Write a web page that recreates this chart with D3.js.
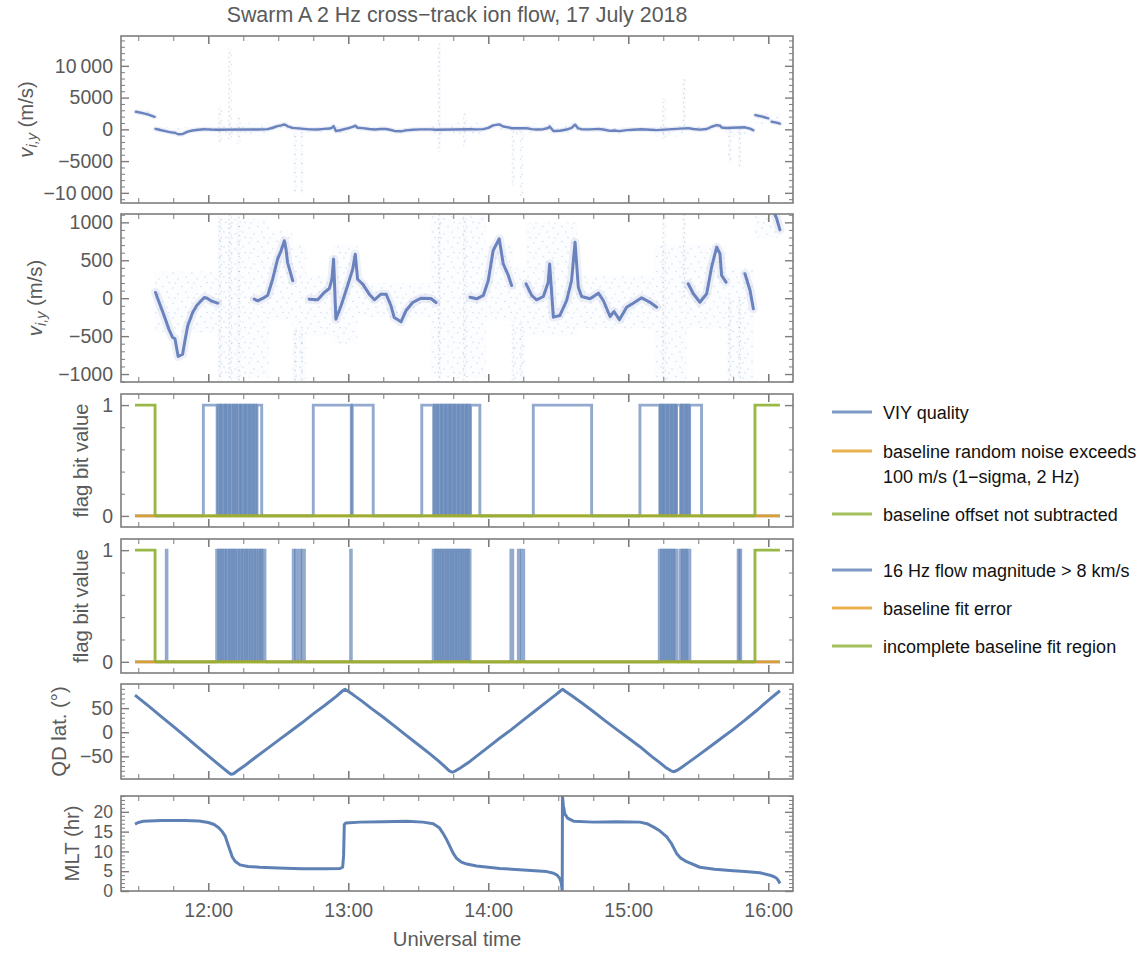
<!DOCTYPE html>
<html>
<head>
<meta charset="utf-8">
<script src="https://cdn.jsdelivr.net/npm/d3@7"></script>
<style>
  html, body { margin: 0; padding: 0; background: #fff; }
  svg { display: block; font-family: "Liberation Sans", Arial, Helvetica, sans-serif; }
</style>
</head>
<body>
<svg id="chart" width="1143" height="954"></svg>
<script>
// ---------------------------------------------------------------
// Data (time in minutes after 00:00 UT, 17 July 2018)
// ---------------------------------------------------------------

// Cross-track ion drift, baseline-corrected stretch (m/s); null = scattered, no clear trace
const viyTime = [697.4, 699, 701.1, 703, 704.7, 705.7, 707.1, 709.0, 710, 711.2, 713.3, 715, 716.9, 718.3, 719.5, 721.2, 724.0,
  null,
  739.7, 741.2, 743.5, 745.5, 747.6, 749.7, 751.2, 752.6, 753.3, 754.0, 756.2,
  null,
  763.3, 766.9, 769.7, 771.9, 773.0, 773.7, 774.7, 776.9, 779.7, 781.9, 783.0, 784.0, 786.2, 789.0, 791.2, 794.0, 796.2,
  798.3, 799.7, 802.6, 804.7, 807.6, 811.2, 815.4, 817.6,
  null,
  832.2, 835.0, 837.9, 840.0, 842.1, 844.7, 846.4, 848.6, 850.0,
  null,
  856.2, 858.6, 860.7, 863.6, 865.7, 866.3, 867.9, 870.7, 873.6, 875.7, 877.2, 878.6, 880.0, 883.6, 887.2, 889.3,
  892.2, 893.9, 896.2, 899.3, 902.1, 905.7, 909.3, 912.2,
  null,
  925.7, 927.9, 930.7, 933.6, 935.7, 937.9, 939.3, 940.0, 941.9,
  null,
  950.0, 952.2, 953.6];
const viy = [75, -60, -232, -400, -518, -532, -769, -738, -560, -364, -189, -100, -35, 9, 0, -35, -66,
  null,
  -13, -35, 0, 40, 250, 515, 625, 757, 650, 470, 230,
  null,
  -13, -21, 75, 128, 250, 515, -277, -100, 163, 383, 580, 250, 185, 53, -21, 53, 53,
  -100, -255, -312, -166, -57, 0, -4, -57,
  null,
  13, -8, 36, 233, 629, 783, 454, 300, 167,
  null,
  190, 36, -21, 22, 211, 450, -250, -228, -30, 233, 739, 145, 22, -8, 66, -30,
  -241, -175, -285, -119, -66, 5, -53, -119,
  null,
  190, 58, -53, 58, 409, 673, 586, 300, 211,
  null,
  322, 102, -140];

// Stretches where the baseline offset was not subtracted (m/s)
const rawTime = [689.0, 691.5, 694.0, 697.0, null, 954.5, 957.0, 960.0, null, 961.5, 963.5, 965.0];
const rawViy  = [2770, 2600, 2350, 1980, null, 2250, 2050, 1730, null, 1200, 1060, 900];

// Scatter of individual 2 Hz samples: broad clouds
const cloudStart = [689, 697, 724, 746, 756, 762, 773, 784, 815, 839, 851, 856, 878, 911, 925, 942, 954];
const cloudEnd   = [697, 724, 746, 756, 762, 773, 784, 815, 839, 851, 856, 878, 911, 925, 942, 954, 965];
const cloudLow   = [2300, -450, -1050, -300, -1100, -500, -600, -250, -1050, -300, -1100, -500, -400, -1100, -400, -1100, 800];
const cloudHigh  = [3100, 350, 1050, 900, 700, 300, 700, 200, 1100, 700, 400, 1000, 300, 700, 700, 400, 2500];

// Scatter of individual 2 Hz samples: narrow streaks
const streakStart = [724.3, 728.6, 732.2, 756.4, 759.3, 818.3, 829.2, 850.0, 853.7, 914.6, 923.2, 942.8, 947.1];
const streakEnd   = [725.8, 730.2, 733.8, 757.8, 760.6, 819.8, 830.6, 851.3, 854.8, 916.2, 924.8, 944.3, 948.3];
const streakLow   = [-2000, -1700, -2300, -10000, -10300, -3500, -2700, -8900, -10600, -1500, 0, -5300, -5800];
const streakHigh  = [3600, 12700, 1900, -400, -400, 13500, 2500, -300, -300, 4900, 8000, 0, 0];

// Flag bits: intervals [start, end] during which a bit is set
const flagFirst = 688.6, flagLast = 965.0;
const viyQualityOn = [
  [717.9, 723.8], [724.2, 724.9], [725.2, 725.6], [726.0, 726.9], [727.1, 727.5], [727.9, 728.6], [728.9, 729.3],
  [729.8, 730.5], [730.8, 731.4], [731.7, 732.2], [732.6, 733.4], [733.7, 734.1], [734.5, 735.3], [735.6, 736.0],
  [736.4, 737.1], [737.4, 737.9], [738.3, 738.8], [739.2, 739.6], [740.0, 740.5], [740.9, 742.9],
  [765.0, 781.3], [781.7, 790.7],
  [811.5, 816.6], [816.9, 817.5], [817.9, 818.3], [818.7, 819.5], [819.8, 820.2], [820.6, 821.3], [821.6, 822.0],
  [822.4, 823.1], [823.4, 823.8], [824.2, 824.9], [825.2, 825.6], [826.0, 826.7], [827.0, 827.4], [827.8, 828.5],
  [828.8, 829.2], [829.6, 830.3], [830.6, 831.0], [831.4, 832.0], [832.4, 836.4],
  [859.3, 884.3],
  [905.0, 913.5], [913.8, 914.4], [914.7, 915.1], [915.5, 916.2], [916.5, 916.9], [917.3, 918.0], [918.3, 918.7],
  [919.1, 919.7], [920.0, 920.4], [920.7, 922.4], [922.8, 923.2], [923.6, 924.3], [924.6, 925.0], [925.4, 926.0],
  [926.3, 931.4]
];
const noiseExceedsOn = [];
const offsetNotSubtractedOn = [[688.6, 697.2], [954.3, 965.0]];

const flowAbove8On = [
  [702.0, 702.3],
  [723.6, 724.3], [724.5, 725.4], [725.6, 726.4], [726.7, 727.6], [727.8, 728.9], [729.1, 729.9], [730.2, 731.0],
  [731.2, 731.9], [732.3, 733.2], [733.4, 734.3], [734.6, 735.4], [735.7, 736.5], [736.7, 737.6], [737.9, 738.8],
  [739.0, 739.9], [740.2, 740.9], [741.3, 742.0], [742.3, 743.0], [743.3, 744.3],
  [756.4, 756.8], [757.4, 757.9], [759.0, 759.6], [760.3, 761.2],
  [781.0, 781.3],
  [816.4, 817.2], [817.4, 818.3], [818.5, 819.4], [819.6, 820.4], [820.7, 821.6], [821.8, 822.7], [822.9, 823.8],
  [824.0, 824.9], [825.1, 826.0], [826.2, 827.1], [827.3, 828.2], [828.4, 829.3], [829.5, 830.4], [830.6, 831.4],
  [831.6, 832.2],
  [849.7, 850.5], [852.9, 853.4], [854.3, 855.2],
  [913.3, 914.1], [914.3, 915.2], [915.4, 916.3], [916.5, 917.4], [917.6, 918.5], [918.7, 919.6], [919.8, 920.7],
  [922.1, 922.9], [923.1, 924.0], [924.2, 925.1], [925.3, 926.4],
  [947.1, 947.5], [947.8, 948.2]
];
const fitErrorOn = [];
const incompleteFitOn = [[688.6, 697.2], [954.3, 965.0]];

// Quasi-dipole latitude (degrees)
const qdTime = [688.6, 695, 700, 705, 710, 715, 720, 724, 727, 728.8, 729.7, 730.8, 732.5, 736, 740, 745, 750, 755, 760,
  765, 770, 775, 777.6, 778.6, 779.6, 782, 786, 790, 795, 800, 805, 810, 815, 819, 821.5, 823.3, 824.6, 826, 828,
  832, 836, 840, 845, 850, 855, 860, 865, 869, 871, 871.9, 873, 876, 880, 885, 890, 895, 900, 905, 910, 913.5,
  916, 918, 919.3, 920.6, 922.5, 926, 930, 935, 940, 945, 950, 955, 960, 965];
const qdLat = [77, 52, 32, 12, -8, -29, -49, -65, -77, -84, -87, -86, -80, -68, -53, -35, -17, 1, 19,
  38, 56, 75, 86, 89, 86, 78, 64, 49, 31, 12, -7, -26, -45, -61, -72, -80, -83, -80, -74,
  -61, -46, -31, -12, 6, 25, 44, 63, 78, 86, 89, 85, 75, 61, 43, 24, 6, -12, -30, -50, -63,
  -73, -79, -82, -80, -74, -62, -48, -30, -12, 6, 25, 45, 66, 86];

// Magnetic local time (hours)
const mltTime = [688.6, 690, 692, 700, 710, 716, 720, 722.5, 724.5, 726, 727.3, 728.3, 729.3, 730.3, 731.5, 733.6, 737,
  742, 750, 760, 770, 776.5, 777.6, 778.0, 778.3, 779, 785, 795, 805, 812, 816.4, 819, 820.7, 822.3, 823.6, 825,
  826.5, 828.5, 830.8, 835, 845, 855, 865, 868, 869.5, 870.6, 871.3, 871.7, 871.8, 872.2, 872.8, 874, 876.7, 885,
  895, 905, 908, 910.7, 913.5, 916.5, 918.5, 920.7, 922.5, 925, 930.7, 937, 945, 950, 956.4, 960.7, 962.5, 963.6,
  964.4, 965];
const mlt = [16.9, 17.3, 17.6, 17.8, 17.8, 17.7, 17.3, 16.8, 16.0, 15.0, 13.8, 12.0, 10.3, 8.6, 7.5, 6.6, 6.2,
  6.0, 5.8, 5.6, 5.6, 5.7, 6.0, 9, 16.8, 17.2, 17.4, 17.5, 17.6, 17.4, 17.0, 16.0, 14.5, 12.8, 11.2, 9.5,
  8.2, 7.3, 6.8, 6.3, 5.7, 5.3, 4.9, 4.5, 4.0, 3.2, 2.0, 0, 24, 21.5, 19.5, 18.4, 17.6, 17.4,
  17.5, 17.4, 17.0, 16.2, 15.2, 13.7, 12.0, 9.5, 8.3, 7.4, 6.0, 5.5, 5.1, 4.9, 4.6, 4.0, 3.6, 3.2,
  2.6, 1.9];

// Axis ticks
const hourTicks = [720, 780, 840, 900, 960];
const quarterTicks = d3.range(690, 961, 15).filter(t => t % 60 !== 0);

// ---------------------------------------------------------------
// Layout and styles
// ---------------------------------------------------------------
const svg = d3.select("#chart");
const left = 121, right = 793;
const BLUE = "#5e81b5", ORANGE = "#e19c24", GREEN = "#8fb032";
const DOT = "#5470b4";
const FRAME = "#7d7d7d", TICKTXT = "#5a5a5a";

const x = d3.scaleLinear().domain([682.6, 970.6]).range([left, right]);

function minus(s) { return s.replace("-", "\u2212"); }
function fmtViy(v) {
  const a = Math.abs(v);
  const s = a >= 10000 ? d3.format(",")(a).replace(",", "\u2009") : String(a);
  return (v < 0 ? "\u2212" : "") + s;
}

// speckle textures standing in for individual scattered samples
const defs = svg.append("defs");
function speckle(id, w, h, dots, r, op) {
  const pat = defs.append("pattern").attr("id", id).attr("patternUnits", "userSpaceOnUse")
    .attr("width", w).attr("height", h);
  dots.forEach(([cx, cy]) => pat.append("circle").attr("cx", cx).attr("cy", cy).attr("r", r)
    .attr("fill", DOT).attr("fill-opacity", op));
}
speckle("sparse", 19, 15, [[2, 3], [11, 1.5], [7, 9], [15, 7], [4, 13], [17, 12.5]], 0.8, 0.22);
speckle("dense", 7, 9, [[1, 1.5], [4.5, 3.5], [2.5, 6], [5.5, 8]], 0.8, 0.28);

const panels = [
  { key: "viyWide", top: 36, bottom: 203, domain: [-11600, 14700], ticks: [-10000, -5000, 0, 5000, 10000],
    minor: d3.range(-11000, 14001, 1000), fmt: fmtViy, label: "viy", labelX: 33, tickFont: 19.5 },
  { key: "viyZoom", top: 214, bottom: 382, domain: [-1105, 1110], ticks: [-1000, -500, 0, 500, 1000],
    minor: d3.range(-1100, 1101, 100), fmt: fmtViy, label: "viy", labelX: 42, tickFont: 19.5 },
  { key: "flags1", top: 394, bottom: 527, domain: [-0.1, 1.1], ticks: [0, 1], minor: d3.range(0, 1.01, 0.2),
    fmt: d => String(d), label: "flag bit value", labelX: 88, tickFont: 19.5 },
  { key: "flags2", top: 539, bottom: 673, domain: [-0.1, 1.1], ticks: [0, 1], minor: d3.range(0, 1.01, 0.2),
    fmt: d => String(d), label: "flag bit value", labelX: 88, tickFont: 19.5 },
  { key: "qd", top: 684, bottom: 779, domain: [-97, 100], ticks: [-50, 0, 50], minor: d3.range(-90, 91, 10),
    fmt: d => minus(String(d)), label: "QD lat. (\u00b0)", labelX: 66, tickFont: 19.5 },
  { key: "mlt", top: 796, bottom: 891, domain: [0, 24], ticks: [0, 5, 10, 15, 20], minor: d3.range(0, 24.1, 1),
    fmt: d => String(d), label: "MLT (hr)", labelX: 79, tickFont: 17.5 }
];

panels.forEach((p, i) => {
  p.y = d3.scaleLinear().domain(p.domain).range([p.bottom, p.top]);
  const clipId = "clip" + i;
  svg.append("clipPath").attr("id", clipId)
    .append("rect").attr("x", left).attr("y", p.top).attr("width", right - left).attr("height", p.bottom - p.top);
  p.g = svg.append("g");
  p.marks = p.g.append("g").attr("clip-path", `url(#${clipId})`);
});

// ---------------------------------------------------------------
// Ion drift panels
// ---------------------------------------------------------------
const viyPts = viyTime.map((t, i) => [t, viy[i]]);
const rawPts = rawTime.map((t, i) => [t, rawViy[i]]);

[panels[0], panels[1]].forEach((p, k) => {
  const y = p.y;
  const idx = a => a.map((s, i) => i);
  // broad scatter clouds
  const cloud = p.marks.append("g");
  cloud.selectAll("rect").data(idx(cloudStart)).enter().append("rect")
    .attr("x", i => x(cloudStart[i])).attr("width", i => x(cloudEnd[i]) - x(cloudStart[i]))
    .attr("y", i => y(cloudHigh[i])).attr("height", i => y(cloudLow[i]) - y(cloudHigh[i]))
    .attr("fill", "url(#sparse)");
  cloud.selectAll("rect.base").data(idx(cloudStart)).enter().append("rect")
    .attr("x", i => x(cloudStart[i])).attr("width", i => x(cloudEnd[i]) - x(cloudStart[i]))
    .attr("y", i => y(cloudHigh[i])).attr("height", i => y(cloudLow[i]) - y(cloudHigh[i]))
    .attr("fill", DOT).attr("fill-opacity", 0.015);
  // narrow streaks of scattered samples
  const streak = p.marks.append("g");
  streak.selectAll("rect").data(idx(streakStart)).enter().append("rect")
    .attr("x", i => x(streakStart[i])).attr("width", i => x(streakEnd[i]) - x(streakStart[i]))
    .attr("y", i => y(streakHigh[i])).attr("height", i => y(streakLow[i]) - y(streakHigh[i]))
    .attr("fill", "url(#dense)");
  streak.selectAll("rect.base").data(idx(streakStart)).enter().append("rect")
    .attr("x", i => x(streakStart[i])).attr("width", i => x(streakEnd[i]) - x(streakStart[i]))
    .attr("y", i => y(streakHigh[i])).attr("height", i => y(streakLow[i]) - y(streakHigh[i]))
    .attr("fill", DOT).attr("fill-opacity", 0.025);

  const line = d3.line().x(d => x(d[0])).y(d => y(d[1])).defined(d => d[0] !== null && d[1] !== null);
  const mainPts = k === 0 ? viyPts.filter(d => d[1] !== null) : viyPts;
  // halo of dense samples around the trace, then the trace
  [mainPts, rawPts].forEach(pts => {
    p.marks.append("path").attr("d", line(pts)).attr("fill", "none")
      .attr("stroke", DOT).attr("stroke-width", k === 0 ? 5 : 9).attr("stroke-opacity", 0.1)
      .attr("stroke-linejoin", "round").attr("stroke-linecap", "round");
    p.marks.append("path").attr("d", line(pts)).attr("fill", "none")
      .attr("stroke", DOT).attr("stroke-width", k === 0 ? 2.4 : 3).attr("stroke-opacity", 0.85)
      .attr("stroke-linejoin", "round").attr("stroke-linecap", "round");
  });
});

// ---------------------------------------------------------------
// Flag panels: each set interval is its own stroke so dense toggling darkens
// ---------------------------------------------------------------
function drawFlags(p, series) {
  const line = d3.line().x(d => x(d[0])).y(d => p.y(d[1]));
  series.forEach(s => {
    const g = p.marks.append("g").attr("fill", "none").attr("stroke", s.color)
      .attr("stroke-width", 2.9).attr("stroke-opacity", s.opacity);
    // level 0 wherever the bit is clear
    let cur = flagFirst;
    const zeros = [];
    s.on.forEach(([a, b]) => { if (a > cur) zeros.push([cur, a]); cur = Math.max(cur, b); });
    if (cur < flagLast) zeros.push([cur, flagLast]);
    g.append("path").attr("d", zeros.map(([a, b]) => line([[a, 0], [b, 0]])).join(""));
    // raised intervals
    s.on.forEach(([a, b]) => {
      const pts = [];
      if (a > flagFirst) pts.push([a, 0]);
      pts.push([a, 1], [b, 1]);
      if (b < flagLast) pts.push([b, 0]);
      g.append("path").attr("d", line(pts)).attr("stroke-linejoin", "miter");
    });
  });
}
drawFlags(panels[2], [
  { on: viyQualityOn, color: BLUE, opacity: 0.68 },
  { on: noiseExceedsOn, color: ORANGE, opacity: 0.9 },
  { on: offsetNotSubtractedOn, color: GREEN, opacity: 0.9 }
]);
drawFlags(panels[3], [
  { on: flowAbove8On, color: BLUE, opacity: 0.68 },
  { on: fitErrorOn, color: ORANGE, opacity: 0.9 },
  { on: incompleteFitOn, color: GREEN, opacity: 0.9 }
]);

// ---------------------------------------------------------------
// QD latitude and MLT
// ---------------------------------------------------------------
[[panels[4], qdTime, qdLat], [panels[5], mltTime, mlt]].forEach(([p, ts, vs]) => {
  const line = d3.line().x(d => x(d[0])).y(d => p.y(d[1]));
  p.marks.append("path").attr("d", line(ts.map((t, i) => [t, vs[i]]))).attr("fill", "none")
    .attr("stroke", BLUE).attr("stroke-width", 3).attr("stroke-linejoin", "round");
});

// ---------------------------------------------------------------
// Frames, ticks and labels
// ---------------------------------------------------------------
function styleAxis(size) {
  return g => {
    g.select(".domain").remove();
    g.selectAll(".tick line").attr("stroke", FRAME);
    g.selectAll(".tick text").attr("fill", TICKTXT).attr("font-size", size)
      .attr("font-family", "'Liberation Sans', Arial, Helvetica, sans-serif");
  };
}

panels.forEach((p, i) => {
  const g = p.g;
  const last = i === panels.length - 1;
  const minorVals = p.minor.filter(v => !p.ticks.includes(+v.toFixed(6)));
  const sx = styleAxis(19.5), sy = styleAxis(p.tickFont);
  // time ticks, bottom and top
  g.append("g").attr("transform", `translate(0,${p.bottom})`)
    .call(d3.axisBottom(x).tickValues(hourTicks).tickSizeInner(-8).tickSizeOuter(0).tickPadding(12)
      .tickFormat(last ? (t => `${Math.floor(t / 60)}:${String(t % 60).padStart(2, "0")}`) : () => ""))
    .call(sx).selectAll(".tick line").attr("stroke-width", 1.6);
  g.append("g").attr("transform", `translate(0,${p.bottom})`)
    .call(d3.axisBottom(x).tickValues(quarterTicks).tickSizeInner(-5).tickSizeOuter(0).tickFormat(() => ""))
    .call(sx);
  g.append("g").attr("transform", `translate(0,${p.top})`)
    .call(d3.axisTop(x).tickValues(hourTicks).tickSizeInner(-8).tickSizeOuter(0).tickFormat(() => ""))
    .call(sx).selectAll(".tick line").attr("stroke-width", 1.6);
  g.append("g").attr("transform", `translate(0,${p.top})`)
    .call(d3.axisTop(x).tickValues(quarterTicks).tickSizeInner(-5).tickSizeOuter(0).tickFormat(() => ""))
    .call(sx);
  // value ticks, left and right
  g.append("g").attr("transform", `translate(${left},0)`)
    .call(d3.axisLeft(p.y).tickValues(p.ticks).tickSizeInner(-8).tickSizeOuter(0).tickPadding(8).tickFormat(p.fmt))
    .call(sy).selectAll(".tick line").attr("stroke-width", 1.4);
  g.append("g").attr("transform", `translate(${left},0)`)
    .call(d3.axisLeft(p.y).tickValues(minorVals).tickSizeInner(-4).tickSizeOuter(0).tickFormat(() => ""))
    .call(sy);
  g.append("g").attr("transform", `translate(${right},0)`)
    .call(d3.axisRight(p.y).tickValues(p.ticks).tickSizeInner(-8).tickSizeOuter(0).tickFormat(() => ""))
    .call(sy).selectAll(".tick line").attr("stroke-width", 1.4);
  g.append("g").attr("transform", `translate(${right},0)`)
    .call(d3.axisRight(p.y).tickValues(minorVals).tickSizeInner(-4).tickSizeOuter(0).tickFormat(() => ""))
    .call(sy);
  // frame
  g.append("rect").attr("x", left).attr("y", p.top).attr("width", right - left).attr("height", p.bottom - p.top)
    .attr("fill", "none").attr("stroke", FRAME).attr("stroke-width", 1.6);

  // value-axis title
  const cy = (p.top + p.bottom) / 2;
  const t = g.append("text").attr("transform", `translate(${p.labelX},${cy}) rotate(-90)`)
    .attr("text-anchor", "middle").attr("fill", TICKTXT).attr("font-size", 20.3);
  if (p.label === "viy") {
    t.append("tspan").attr("font-style", "italic").text("v");
    t.append("tspan").attr("font-style", "italic").attr("font-size", 14.5).attr("dy", 4).text("i,y");
    t.append("tspan").attr("dy", -4).text(" (m/s)");
  } else {
    t.text(p.label);
  }
});

// Title and time-axis title
svg.append("text").attr("x", (left + right) / 2).attr("y", 21.5).attr("text-anchor", "middle")
  .attr("font-size", 21.4).attr("fill", TICKTXT)
  .text("Swarm A 2 Hz cross\u2212track ion flow, 17 July 2018");
svg.append("text").attr("x", (left + right) / 2).attr("y", 946).attr("text-anchor", "middle")
  .attr("font-size", 20.3).attr("fill", TICKTXT).text("Universal time");

// Legends for the flag panels
const legendItems = [
  { color: BLUE, y: 412, lines: ["VIY quality"] },
  { color: ORANGE, y: 451, lines: ["baseline random noise exceeds", "100 m/s (1\u2212sigma, 2 Hz)"] },
  { color: GREEN, y: 514, lines: ["baseline offset not subtracted"] },
  { color: BLUE, y: 570, lines: ["16 Hz flow magnitude > 8 km/s"] },
  { color: ORANGE, y: 608, lines: ["baseline fit error"] },
  { color: GREEN, y: 646, lines: ["incomplete baseline fit region"] }
];
const lg = svg.append("g");
legendItems.forEach(it => {
  lg.append("line").attr("x1", 832).attr("x2", 872).attr("y1", it.y).attr("y2", it.y)
    .attr("stroke", it.color).attr("stroke-width", 2.8).attr("stroke-opacity", 0.8);
  it.lines.forEach((s, j) => {
    lg.append("text").attr("x", 883).attr("y", it.y + 6.5 + j * 25).attr("font-size", 18)
      .attr("fill", "#111").text(s);
  });
});
</script>
</body>
</html>
